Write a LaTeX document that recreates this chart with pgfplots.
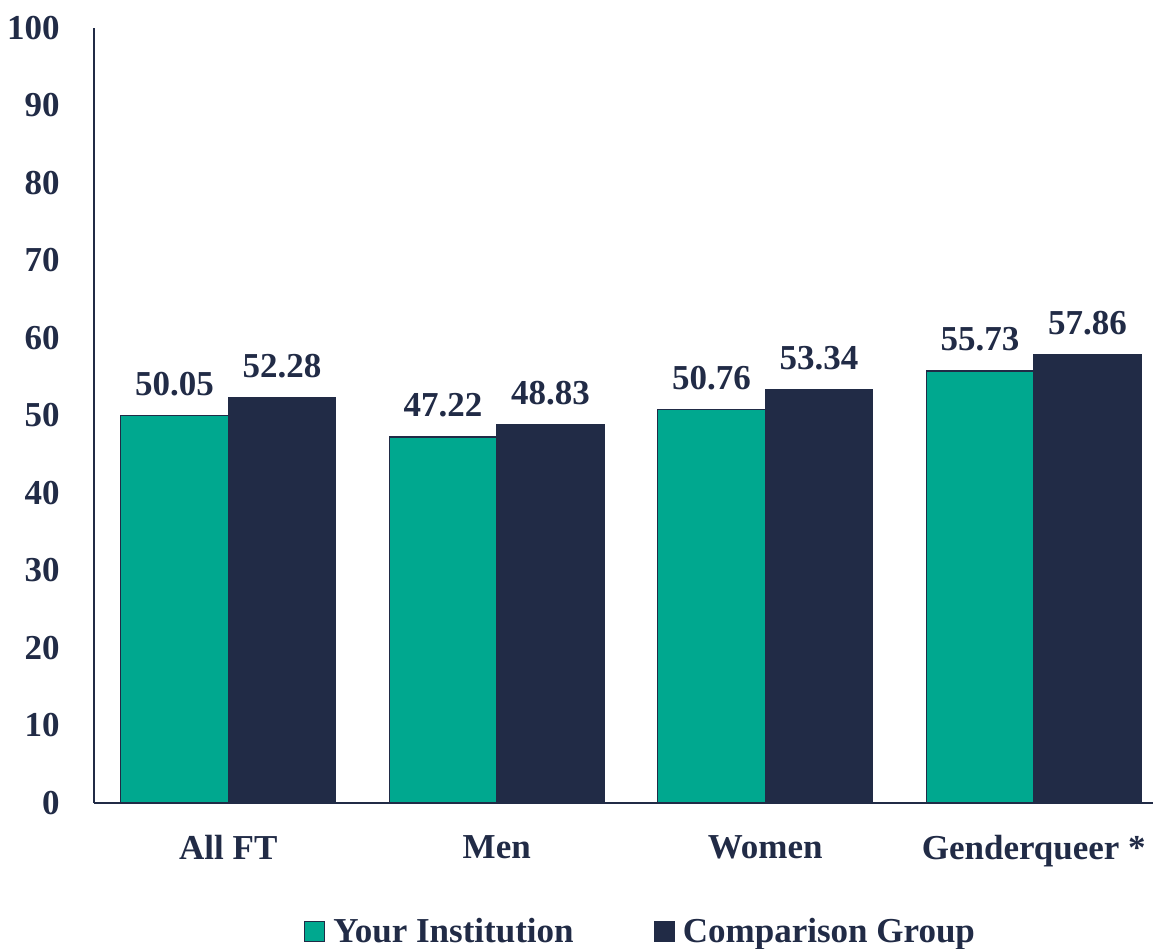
\documentclass[border=0pt]{standalone}
\usepackage{pgfplots}
\pgfplotsset{compat=1.18}
\usepackage{fontspec}
\setmainfont{Liberation Serif}
\definecolor{teal1}{RGB}{0,168,143}
\definecolor{navy}{RGB}{33,43,70}
\newcommand{\lblfont}{\fontsize{17.5}{20}\selectfont\bfseries}
\begin{document}
\begin{tikzpicture}
\path[use as bounding box] (-47pt,-73pt) rectangle (529.5pt,401.5pt);
\begin{axis}[
  at={(0pt,0pt)}, anchor=south west,
  scale only axis, width=529.5pt, height=387.5pt,
  ybar=0pt, bar width=53.75pt,
  xmin=-0.5, xmax=3.444, ymin=0, ymax=100,
  xtick={0,1,2,3},
  xticklabels={All FT, Men, Women, Genderqueer *},
  ytick={0,10,...,100},
  major tick length=0pt,
  axis x line*=bottom, axis y line*=left,
  axis line style={navy, line width=1pt, -},
  /pgf/number format/assume math mode=true,
  yticklabel style={font=\lblfont, text=navy, inner sep=0pt, xshift=-17pt},
  xticklabel style={font=\lblfont, text=navy, inner sep=0pt, yshift=-16pt},
  nodes near coords={\pgfmathprintnumber[fixed,fixed zerofill,precision=2]{\pgfplotspointmeta}},
  nodes near coords style={font=\lblfont, text=navy, inner sep=0pt, anchor=south, yshift=9.5pt},
  legend columns=2,
  legend style={at={(0.519,-0.166)}, anchor=center, draw=none, fill=none,
    font=\lblfont, text=navy, nodes={inner xsep=4pt},
    /tikz/every even column/.append style={column sep=36pt}},
  legend image code/.code={\draw[#1, draw=navy, line width=0.6pt] (0pt,-5pt) rectangle (10pt,5pt);},
  clip=false,
]
\addplot[fill=teal1, draw=navy, line width=0.6pt] coordinates {(0,50.05) (1,47.22) (2,50.76) (3,55.73)};
\addplot[fill=navy, draw=navy, line width=0.6pt] coordinates {(0,52.28) (1,48.83) (2,53.34) (3,57.86)};
\legend{Your Institution, Comparison Group}
\end{axis}
\end{tikzpicture}
\end{document}
